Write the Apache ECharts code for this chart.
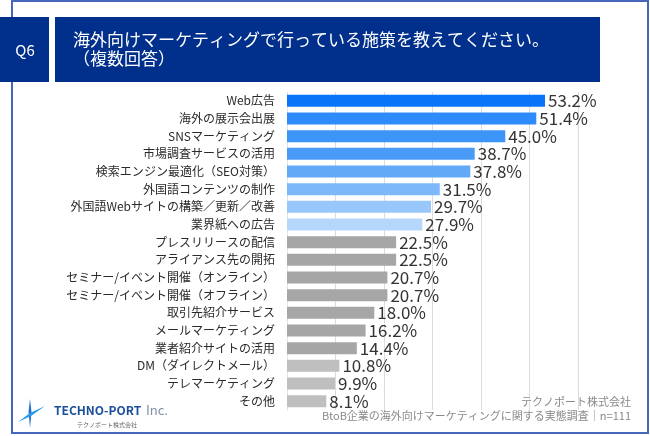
<!DOCTYPE html>
<html>
<head>
<meta charset="utf-8">
<script src="https://cdn.jsdelivr.net/npm/echarts@6/dist/echarts.min.js"></script>
<style>
html,body{margin:0;padding:0;background:#fff;}
#chart{width:650px;height:436px;}
</style>
</head>
<body>
<div id="chart"></div>
<script>
var categories = [
  'Web広告','海外の展示会出展','SNSマーケティング','市場調査サービスの活用',
  '検索エンジン最適化（SEO対策）','外国語コンテンツの制作','外国語Webサイトの構築／更新／改善',
  '業界紙への広告','プレスリリースの配信','アライアンス先の開拓',
  'セミナー/イベント開催（オンライン）','セミナー/イベント開催（オフライン）',
  '取引先紹介サービス','メールマーケティング','業者紹介サイトの活用',
  'DM（ダイレクトメール）','テレマーケティング','その他'
];
var values = [53.2,51.4,45.0,38.7,37.8,31.5,29.7,27.9,22.5,22.5,20.7,20.7,18.0,16.2,14.4,10.8,9.9,8.1];
var barColors = ['#0A74F8','#2E8BFB','#3D95FA','#4A9BF8','#62AAF8','#7DB9FA','#97C7FB','#B5D7FC',
  '#A6A6A6','#A6A6A6','#A6A6A6','#A6A6A6','#A6A6A6','#A6A6A6','#A6A6A6','#BFBFBF','#BFBFBF','#BFBFBF'];
var titleLines = ['海外向けマーケティングで行っている施策を教えてください。','（複数回答）'];
var qLabel = 'Q6';
var footerLines = ['テクノポート株式会社','BtoB企業の海外向けマーケティングに関する実態調査｜n=111'];

var FONT = '"Noto Sans CJK JP","Noto Sans",sans-serif';
var chart = echarts.init(document.getElementById('chart'));
var option = {
  animation: false,
  backgroundColor: '#ffffff',
  grid: {left: 287, right: 72, top: 92, bottom: 26},
  xAxis: {
    type: 'value', min: 0, max: 60, interval: 10,
    axisLabel: {show: false}, axisLine: {show: false}, axisTick: {show: false},
    splitLine: {show: true, lineStyle: {color: '#DCDCDC', width: 1}}
  },
  yAxis: {
    type: 'category', inverse: true, data: categories,
    axisTick: {show: false},
    axisLine: {show: true, lineStyle: {color: '#E4E4E4'}},
    axisLabel: {fontSize: 12, color: '#2A2A2A', margin: 12, fontFamily: FONT}
  },
  series: [{
    type: 'bar',
    data: values.map(function(v, i){ return {value: v, itemStyle: {color: barColors[i]}}; }),
    barWidth: 12,
    label: {
      show: true, position: 'right', distance: 3,
      fontSize: 17, color: '#333333', fontFamily: FONT,
      formatter: function(p){ return p.value.toFixed(1) + '%'; }
    }
  }],
  graphic: [
    {type: 'rect', shape: {x: 12, y: 1, width: 636, height: 432}, style: {fill: 'none', stroke: '#4566BA', lineWidth: 2}, z: 1},
    {type: 'rect', shape: {x: 0, y: 17, width: 49, height: 65}, style: {fill: '#00308C'}, z: 5},
    {type: 'rect', shape: {x: 55, y: 17, width: 545, height: 65}, style: {fill: '#00308C'}, z: 5},
    {type: 'text', x: 25, y: 50, style: {text: qLabel, fill: '#ffffff', font: '15px ' + FONT, textAlign: 'center', textVerticalAlign: 'middle'}, z: 6},
    {type: 'text', x: 73, y: 40, style: {text: titleLines[0], fill: '#ffffff', font: '17px ' + FONT, textAlign: 'left', textVerticalAlign: 'middle'}, z: 6},
    {type: 'text', x: 73, y: 59, style: {text: titleLines[1], fill: '#ffffff', font: '17px ' + FONT, textAlign: 'left', textVerticalAlign: 'middle'}, z: 6},
    {type: 'text', x: 631, y: 402, style: {text: footerLines[0], fill: '#8A8A8A', font: '11px ' + FONT, textAlign: 'right', textVerticalAlign: 'middle'}, z: 6},
    {type: 'text', x: 631, y: 416, style: {text: footerLines[1], fill: '#8A8A8A', font: '11px ' + FONT, textAlign: 'right', textVerticalAlign: 'middle'}, z: 6},
    // logo icon
    {type: 'polygon', shape: {points: [[30,399],[31.5,412],[30,428],[28.5,412]]}, style: {fill: '#1F6FD0'}, z: 6},
    {type: 'polygon', shape: {points: [[18,422],[30,413],[45,406],[31,416]]}, style: {fill: '#2A9BE6'}, z: 6},
    {type: 'text', x: 54, y: 410, style: {text: 'TECHNO-PORT', fill: '#1B4F9C', font: 'bold 12px ' + FONT, textAlign: 'left', textVerticalAlign: 'middle'}, z: 6},
    {type: 'text', x: 146, y: 410, style: {text: 'Inc.', fill: '#7F8FA6', font: '13px ' + FONT, textAlign: 'left', textVerticalAlign: 'middle'}, z: 6},
    {type: 'text', x: 77, y: 425, style: {text: 'テクノポート株式会社', fill: '#666666', font: '6px ' + FONT, textAlign: 'left', textVerticalAlign: 'middle'}, z: 6}
  ]
};
chart.setOption(option);
</script>
</body>
</html>
